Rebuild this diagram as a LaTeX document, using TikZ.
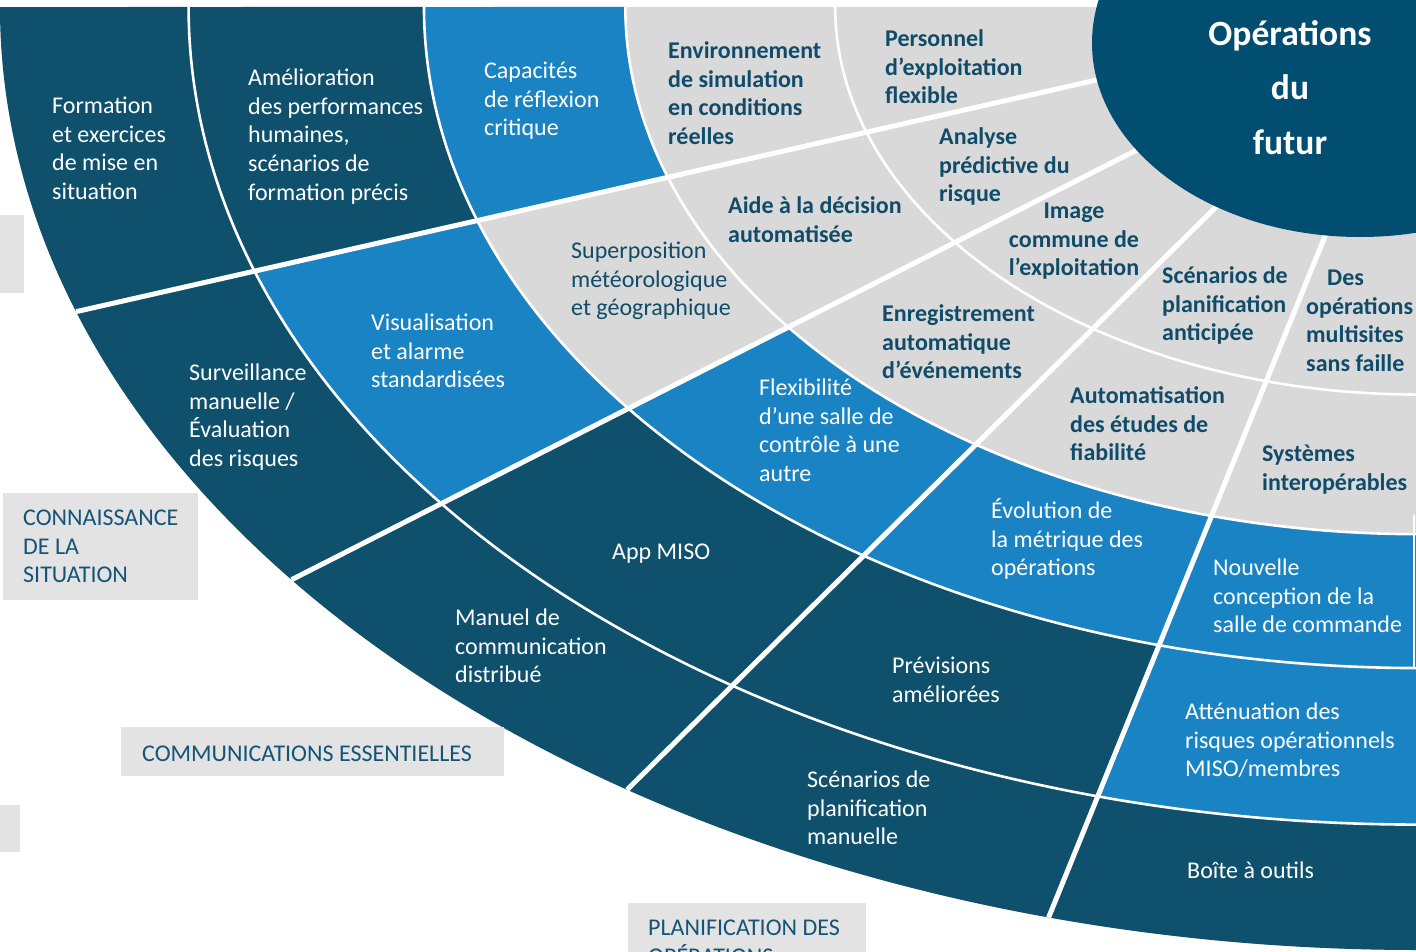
\documentclass[tikz,border=0pt]{standalone}
\usepackage{fontspec}
\setmainfont{Carlito}
\definecolor{navy}{RGB}{15,80,108}
\definecolor{core}{RGB}{2,78,112}
\definecolor{sky}{RGB}{26,131,195}
\definecolor{ringgray}{RGB}{217,217,217}
\definecolor{boxgray}{RGB}{227,227,227}
\definecolor{ink}{RGB}{16,76,106}
\definecolor{labelink}{RGB}{20,84,120}
\newcommand\fs{\fontsize{24}{28.8}\selectfont}
\newcommand\titlefs{\fontsize{35.5}{54.5}\selectfont\bfseries}
\newcommand\ringseg[5]{\fill[#1] (#2:#5) arc[start angle=#2, end angle=#3, radius=#5] -- (#3:#4) arc[start angle=#3, end angle=#2, radius=#4] -- cycle;}
\tikzset{
  txt/.style={anchor=north west, inner sep=0pt, align=left, font=\fs},
  wtxt/.style={txt, text=white},
  gtxt/.style={txt, text=ink},
  btxt/.style={txt, text=ink, font=\fs\bfseries},
  ltxt/.style={txt, text=labelink},
  arcline/.style={white, line width=2.6pt},
  spoke/.style={white, line width=5pt},
}
\begin{document}
\begin{tikzpicture}[x=1pt,y=-1pt]
\useasboundingbox (0,0) rectangle (1416,951);
\fill[white] (0,0) rectangle (1416,951);
\begin{scope}[shift={(1418,7)}, xscale=1418, yscale=943]
  \coordinate (O) at (0,0);
  \fill[ringgray] (O) -- (180:1) arc[start angle=180, end angle=88, radius=1] -- cycle;
  \ringseg{navy}{180}{88}{0.867}{1}
  \ringseg{navy}{180}{88}{0.701}{0.867}
  \ringseg{sky}{161.15}{142.6}{0.701}{0.867}
  \ringseg{sky}{105.1}{88}{0.701}{0.867}
  \ringseg{sky}{180}{88}{0.559}{0.701}
  \ringseg{ringgray}{161.15}{142.6}{0.559}{0.701}
  \foreach \r in {0.867,0.701,0.559,0.411}
    \draw[arcline] (180:\r) arc[start angle=180, end angle=88, radius=\r];
  \foreach \a in {161.15,142.6,123.9,105.1}
    \draw[spoke] (\a:1) -- (\a:0.2);
\end{scope}
\draw[white, line width=2pt] (1414,515) -- (1414,668);
\fill[core] (1360,43) ellipse[x radius=268, y radius=194];

% category label boxes
\fill[boxgray] (3,493) rectangle (198,600);
\fill[boxgray] (121,727) rectangle (504,776);
\fill[boxgray] (628,903) rectangle (866,960);
\fill[boxgray] (-5,215) rectangle (24,293);
\fill[boxgray] (-5,805) rectangle (20,852);
\node[ltxt] (lab1) at (23,505) {\strut CONNAISSANCE\\DE LA\\SITUATION};
\node[ltxt] (lab2) at (142,741) {\strut COMMUNICATIONS ESSENTIELLES};
\node[ltxt] (lab3) at (648,915) {\strut PLANIFICATION DES\\OPÉRATIONS};

% outer ring
\node[wtxt] (formation) at (52,93) {\strut Formation\\et exercices\\de mise en\\situation};
\node[wtxt] (surveillance) at (189,360) {\strut Surveillance\\manuelle /\\Évaluation\\des risques};
\node[wtxt] (manuel) at (455,605) {\strut Manuel de\\communication\\distribué};
\node[wtxt] (scenman) at (807,767) {\strut Scénarios de\\planification\\manuelle};
\node[wtxt] (boite) at (1187,858) {\strut Boîte à outils};
% ring 2
\node[wtxt] (amelio) at (248,65) {\strut Amélioration\\des performances\\humaines,\\scénarios de\\formation précis};
\node[wtxt] (visu) at (371,310) {\strut Visualisation\\et alarme\\standardisées};
\node[wtxt] (app) at (612,539) {\strut App MISO};
\node[wtxt] (previsions) at (892,653) {\strut Prévisions\\améliorées};
\node[wtxt] (attenuation) at (1185,699) {\strut Atténuation des\\risques opérationnels\\MISO/membres};
% ring 3
\node[wtxt] (capacites) at (484,58) {\strut Capacités\\de réflexion\\critique};
\node[gtxt] (superposition) at (571,238) {\strut Superposition\\météorologique\\et géographique};
\node[wtxt] (flex) at (759,375) {\strut Flexibilité\\d’une salle de\\contrôle à une\\autre};
\node[wtxt] (evolution) at (991,498) {\strut Évolution de\\la métrique des\\opérations};
\node[wtxt] (nouvelle) at (1213,555) {\strut Nouvelle\\conception de la\\salle de commande};
% ring 4
\node[btxt] (env) at (668,38) {\strut Environnement\\de simulation\\en conditions\\réelles};
\node[btxt] (aide) at (728,193) {\strut Aide à la décision\\automatisée};
\node[btxt] (enreg) at (882,301) {\strut Enregistrement\\automatique\\d’événements};
\node[btxt] (automat) at (1070,383) {\strut Automatisation\\des études de\\fiabilité};
\node[btxt] (systemes) at (1262,441) {\strut Systèmes\\interopérables};
% ring 5
\node[btxt] (personnel) at (885,26) {\strut Personnel\\d’exploitation\\flexible};
\node[btxt] (analyse) at (939,124) {\strut Analyse\\prédictive du\\risque};
\node[btxt, anchor=north, align=center] (image) at (1074,198) {\strut Image\\commune de\\l’exploitation};
\node[btxt] (scenant) at (1162,263) {\strut Scénarios de\\planification\\anticipée};
\node[btxt] (multisites) at (1306,265) {\strut\hspace*{21pt}Des\\opérations\\multisites\\sans faille};
% centre
\node[anchor=north, inner sep=0pt, align=center, text=white, font=\titlefs] (coretitle) at (1290,7) {\strut Opérations\\du\\futur};
\end{tikzpicture}
\end{document}
